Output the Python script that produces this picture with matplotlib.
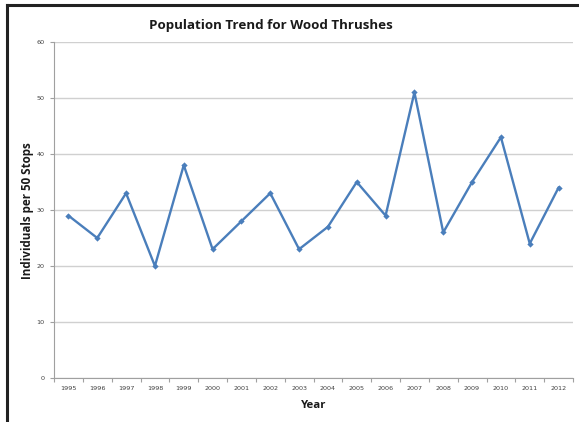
import matplotlib
matplotlib.use("Agg")
import matplotlib.pyplot as plt
from matplotlib.lines import Line2D
import numpy as np

years = ["1995", "1996", "1997", "1998", "1999", "2000", "2001", "2002", "2003",
         "2004", "2005", "2006", "2007", "2008", "2009", "2010", "2011", "2012"]
counts = [29, 25, 33, 20, 38, 23, 28, 33, 23, 27, 35, 29, 51, 26, 35, 43, 24, 34]
y_ticks = [0, 10, 20, 30, 40, 50, 60]

W, H = 579, 422
fig = plt.figure(figsize=(W / 100, H / 100), dpi=100)
ax = fig.add_axes([54 / W, 1 - 378 / H, (573 - 54) / W, (378 - 42) / H])

x = np.arange(len(years))
ax.plot(x, counts, color="#4a7ebb", lw=1.7, marker="D", ms=3.2,
        markeredgewidth=0, zorder=3)

ax.set_xlim(-0.5, len(years) - 0.5)
ax.set_ylim(0, 60)
ax.set_yticks(y_ticks)
ax.set_yticklabels([str(v) for v in y_ticks], fontsize=4.6, color="#404040")
ax.set_xticks(x)
ax.set_xticklabels(years, fontsize=4.6, color="#404040")
ax.tick_params(axis="x", length=0, pad=6)
ax.set_xticks(np.arange(len(years) + 1) - 0.5, minor=True)
ax.tick_params(axis="x", which="minor", length=3, color="#a0a0a0", width=0.8)
ax.tick_params(axis="y", length=3, color="#a0a0a0", width=0.8, pad=4)

ax.grid(axis="y", color="#d0d0d0", lw=1.0)
ax.set_axisbelow(True)
for s in ("top", "right"):
    ax.spines[s].set_visible(False)
for s in ("left", "bottom"):
    ax.spines[s].set_color("#a0a0a0")
    ax.spines[s].set_linewidth(0.8)

fig.text(271 / W, 1 - 25 / H, "Population Trend for Wood Thrushes",
         ha="center", va="center", fontsize=9.6, fontweight="bold",
         family="Open Sans", color="#1a1a1a")
fig.text(27 / W, 1 - 211 / H, "Individuals per 50 Stops", rotation=90,
         ha="center", va="center", fontsize=8.4, fontweight="bold",
         family="Open Sans", color="#1a1a1a")
fig.text(314 / W, 1 - 405 / H, "Year", ha="center", va="center",
         fontsize=8.2, fontweight="bold", family="Open Sans", color="#1a1a1a")

# page frame on the top and left edges
fig.add_artist(Line2D([7 / W, 1], [1 - 5 / H, 1 - 5 / H], color="#222222",
                      lw=2.2, transform=fig.transFigure))
fig.add_artist(Line2D([7 / W, 7 / W], [0, 1 - 5 / H], color="#222222",
                      lw=2.2, transform=fig.transFigure))

fig.savefig("out.png", dpi=100)
